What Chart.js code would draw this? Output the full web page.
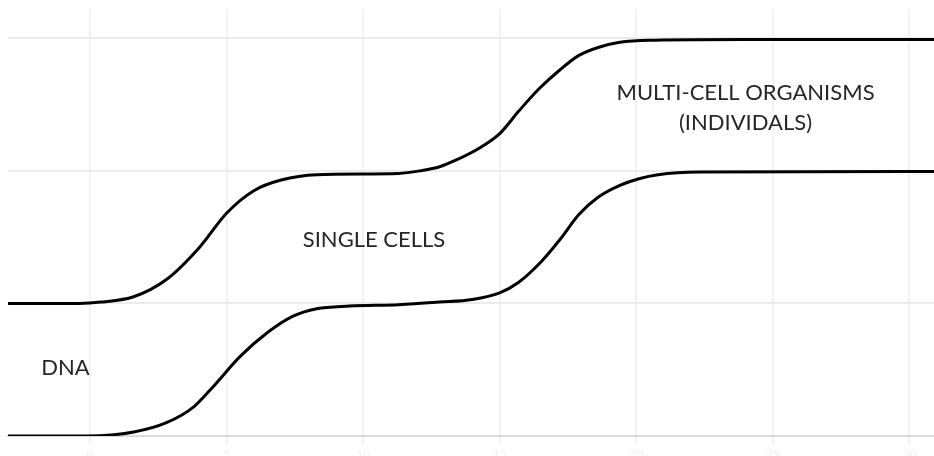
<!DOCTYPE html>
<html>
<head>
<meta charset="utf-8">
<script src="https://cdn.jsdelivr.net/npm/chart.js@4/dist/chart.umd.min.js"></script>
<style>
  html, body { margin: 0; padding: 0; background: #fff; }
  #wrap { width: 934px; height: 456px; }
</style>
</head>
<body>
<div id="wrap"><canvas id="c" width="934" height="456"></canvas></div>
<script>
// ---- data ----
const xTicks = [0, 5, 10, 15, 20, 25, 30];
const yTicks = [0, 1, 2, 3];

const upperX = [-3, -0.4, 0.4, 1.6, 2.8, 4, 5, 6, 7, 8.3, 11.3, 12.1, 12.8, 13.5, 14.25, 15, 15.7, 16.45, 17.2, 17.9, 18.6, 19.4, 20.7, 24, 30.9];
const upperY = [1, 1, 1.01, 1.05, 1.18, 1.42, 1.68, 1.85, 1.93, 1.97, 1.98, 2.0, 2.03, 2.09, 2.17, 2.28, 2.45, 2.62, 2.76, 2.87, 2.93, 2.97, 2.985, 2.99, 2.99];

const lowerX = [-3, -0.1, 1.6, 2.8, 3.8, 4.5, 5.5, 6.5, 7.4, 8.3, 9.5, 11.3, 12.8, 14, 15, 15.7, 16.5, 17.2, 17.9, 18.6, 19.4, 20.1, 20.8, 22.3, 30.9];
const lowerY = [0, 0, 0.03, 0.1, 0.22, 0.37, 0.6, 0.78, 0.9, 0.96, 0.98, 0.99, 1.01, 1.03, 1.08, 1.16, 1.31, 1.48, 1.67, 1.8, 1.89, 1.94, 1.97, 1.99, 1.995];

const labelTexts = ['DNA', 'SINGLE CELLS', 'MULTI-CELL ORGANISMS', '(INDIVIDALS)'];
const labelX = [-0.9, 10.4, 24, 24];
const labelY = [0.51, 1.48, 2.59, 2.36];

const toPts = (xs, ys) => xs.map((x, i) => ({ x: x, y: ys[i] }));

const textPlugin = {
  id: 'texts',
  beforeDraw(chart) {
    const ctx = chart.ctx;
    ctx.save();
    ctx.fillStyle = '#ffffff';
    ctx.fillRect(0, 0, chart.width, chart.height);
    ctx.restore();
  },
  afterDatasetsDraw(chart) {
    const ctx = chart.ctx;
    const xs = chart.scales.x, ys = chart.scales.y;
    ctx.save();
    ctx.fillStyle = '#262626';
    ctx.font = '22px Lato, "Open Sans", sans-serif';
    ctx.textAlign = 'center';
    ctx.textBaseline = 'middle';
    labelTexts.forEach((t, i) => {
      ctx.fillText(t, xs.getPixelForValue(labelX[i]), ys.getPixelForValue(labelY[i]));
    });
    ctx.restore();
  }
};

new Chart(document.getElementById('c'), {
  type: 'line',
  data: {
    datasets: [
      { data: toPts(upperX, upperY), borderColor: '#000', borderWidth: 3, pointRadius: 0, cubicInterpolationMode: 'monotone', fill: false },
      { data: toPts(lowerX, lowerY), borderColor: '#000', borderWidth: 3, pointRadius: 0, cubicInterpolationMode: 'monotone', fill: false }
    ]
  },
  options: {
    responsive: false,
    animation: false,
    layout: { padding: { left: 8, right: 0, top: 9, bottom: 0 } },
    plugins: { legend: { display: false }, tooltip: { enabled: false } },
    scales: {
      x: {
        type: 'linear',
        min: -3,
        max: 30.9,
        afterBuildTicks: (s) => { s.ticks = xTicks.map(v => ({ value: v })); },
        afterFit: (s) => { s.height = 20; },
        grid: { color: '#f2f2f2', lineWidth: 2, tickLength: 8 },
        border: { color: '#d9d9d9', width: 2 },
        ticks: { color: '#f0f0f0', font: { size: 12, family: 'Lato' }, padding: 3, maxRotation: 0 }
      },
      y: {
        min: 0,
        max: 3.22,
        afterBuildTicks: (s) => { s.ticks = yTicks.map(v => ({ value: v })); },
        afterFit: (s) => { s.width = 0; },
        grid: { color: '#ececec', lineWidth: 2, drawTicks: false },
        border: { display: false },
        ticks: { display: false }
      }
    }
  },
  plugins: [textPlugin]
});
</script>
</body>
</html>
